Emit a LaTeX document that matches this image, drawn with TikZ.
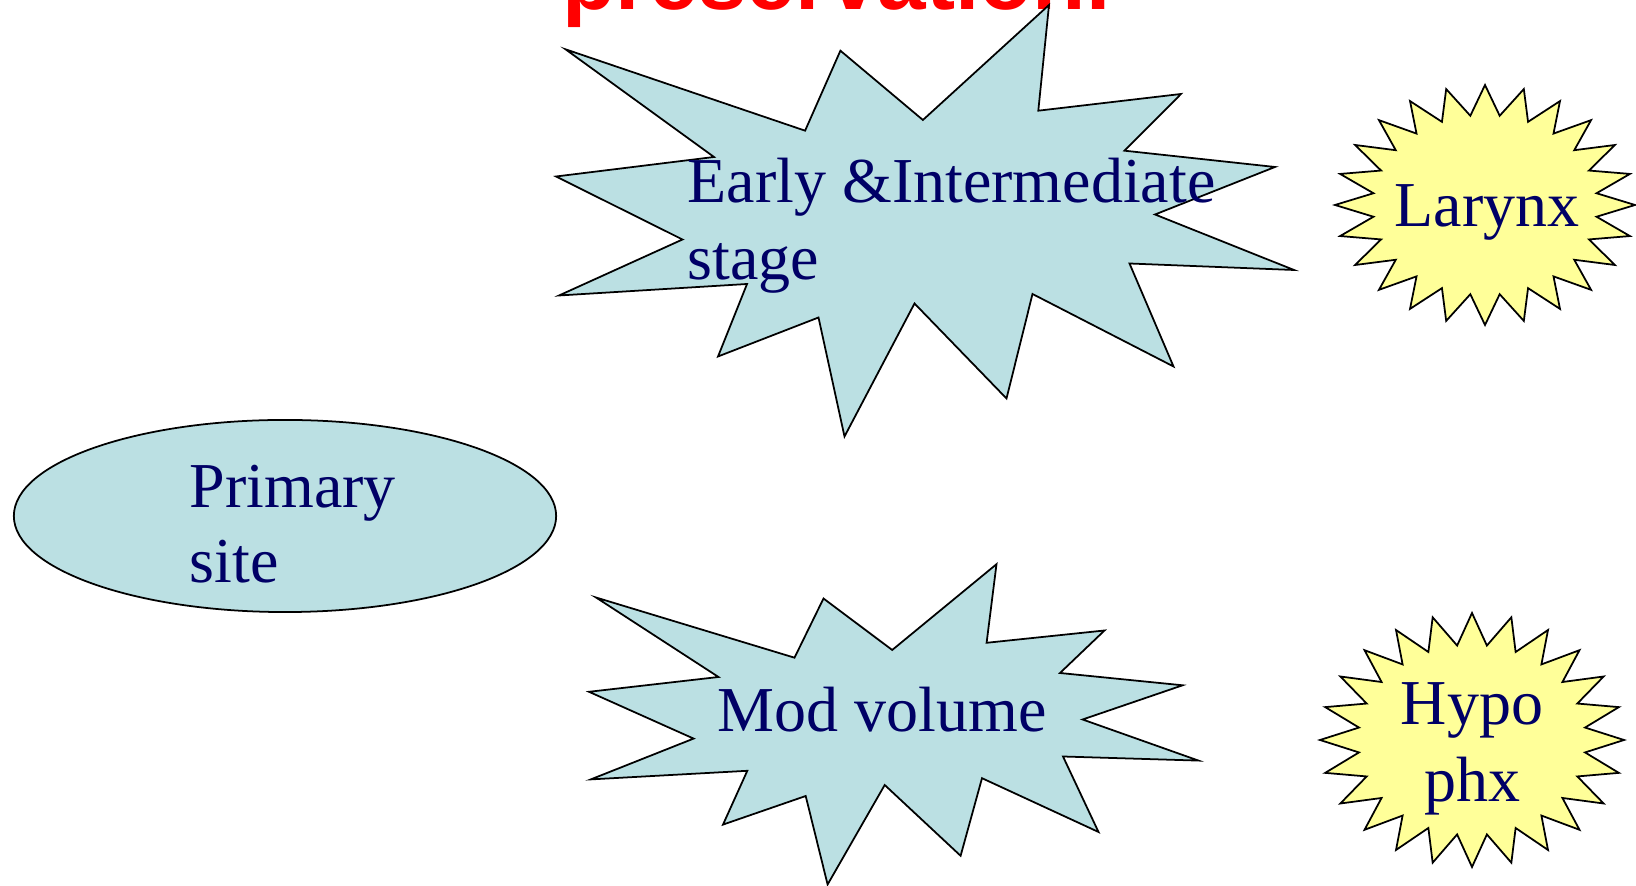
\documentclass[tikz,border=0pt]{standalone}
\usepackage{fontspec}
\setmainfont{Liberation Serif}
\newfontfamily\titlefont{Liberation Sans}
\definecolor{paleblue}{RGB}{187,224,227}
\definecolor{paleyellow}{RGB}{255,255,153}
\definecolor{navytext}{RGB}{0,0,102}
\begin{document}
\begin{tikzpicture}[x=0.01cm,y=-0.01cm,
  shapeline/.style={draw=black,line width=0.5pt,line join=miter},
  bluefill/.style={shapeline,fill=paleblue},
  yellowfill/.style={shapeline,fill=paleyellow},
  txt/.style={inner sep=0pt,text=navytext,font=\fontsize{18.2}{21.6}\selectfont},
  titletxt/.style={inner sep=0pt,text=red,font=\titlefont\bfseries\fontsize{24.8}{28}\selectfont},
  ]
\useasboundingbox (0,0) rectangle (1636,886);

% heading, running off the top edge
\begin{scope}
  \clip (0,0) rectangle (1636,886);
  \node[titletxt,anchor=base west] (title) at (562,9.5) {preservation.};
\end{scope}

% upper explosion
\draw[bluefill] (565.5,49.3) -- (805.1,130.7) -- (840.4,50.7) -- (922.9,120)
  -- (1049,5) -- (1038.3,110.7) -- (1181,94) -- (1124.5,150.7) -- (1275,167)
  -- (1155,214.5) -- (1294,270) -- (1129.5,263.5) -- (1173.5,366.5)
  -- (1032.5,294) -- (1006.5,398.5) -- (914.5,303.5) -- (844.5,436.5)
  -- (818.5,317.5) -- (718,356.5) -- (747,284) -- (559,295.5)
  -- (682.5,239.5) -- (556,176.5) -- (714,157) -- cycle;

% lower explosion
\draw[bluefill] (596,597.5) -- (794.5,657.7) -- (823.5,598.5) -- (892.2,650)
  -- (996.5,564.2) -- (986.6,642.8) -- (1104.5,630.5) -- (1060,673)
  -- (1182.6,685.3) -- (1082.6,719.5) -- (1198.5,760.6) -- (1063,756.5)
  -- (1098.5,832) -- (982,778.2) -- (960.6,855.8) -- (884.7,785)
  -- (827.6,884.5) -- (805.7,796) -- (723,824.6) -- (747.3,770.8)
  -- (590.8,779.4) -- (693.6,738.6) -- (589,691.8) -- (718.5,677) -- cycle;

% oval on the left
\draw[bluefill] (285,516) ellipse [x radius=2.71cm, y radius=0.96cm];

% 24-point stars
\draw[yellowfill] plot[samples at={0,...,47}, variable=\k]
  ({1485+150*(1-0.25*mod(\k,2))*cos(90+7.5*\k)},
   {205-120*(1-0.25*mod(\k,2))*sin(90+7.5*\k)}) -- cycle;
\draw[yellowfill] plot[samples at={0,...,47}, variable=\k]
  ({1472+152*(1-0.25*mod(\k,2))*cos(90+7.5*\k)},
   {740-127*(1-0.25*mod(\k,2))*sin(90+7.5*\k)}) -- cycle;

% labels
\node[txt,anchor=base west] (earlyA) at (687,203) {Early \&Intermediate};
\node[txt,anchor=base west] (earlyB) at (687,280) {stage};
\node[txt,anchor=base west] (primA) at (189,508) {Primary};
\node[txt,anchor=base west] (primB) at (189,583) {site};
\node[txt,anchor=base] (mod) at (882,731.7) {Mod volume};
\node[txt,anchor=base] (larynx) at (1487,226.7) {Larynx};
\node[txt,anchor=base] (hypoA) at (1472,725) {Hypo};
\node[txt,anchor=base] (hypoB) at (1472,801.7) {phx};
\end{tikzpicture}
\end{document}
